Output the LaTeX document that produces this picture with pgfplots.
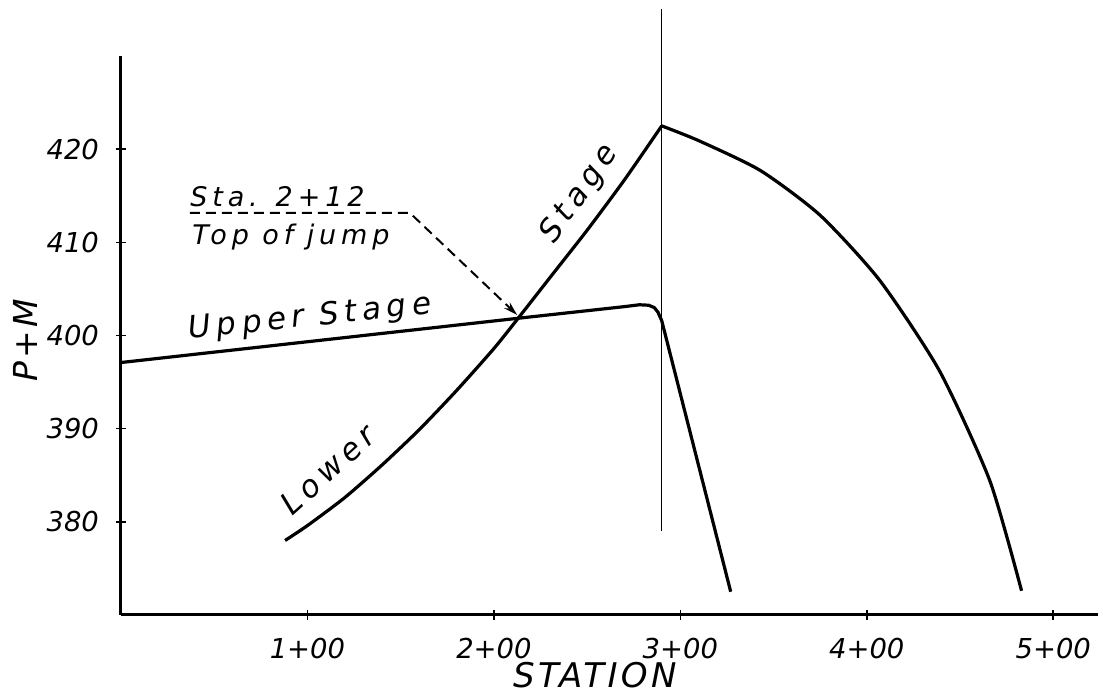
\documentclass[border=0pt]{standalone}
\usepackage{pgfplots}
\pgfplotsset{compat=1.18}
\usepackage{fontspec}
\setmainfont{DejaVu Sans}
\newfontfamily\hand{DejaVu Sans}
\newfontfamily\handS[LetterSpace=18]{DejaVu Sans}
\newfontfamily\handM[LetterSpace=10]{DejaVu Sans}
\usetikzlibrary{arrows.meta}
\begin{document}
\begin{tikzpicture}
\useasboundingbox (-60.5pt,-40.5pt) rectangle (491pt,307.5pt);
\begin{axis}[
  at={(0pt,0pt)}, anchor=south west,
  scale only axis, width=488.5pt, height=279.5pt,
  xmin=0, xmax=524, ymin=370, ymax=430,
  axis lines*=left,
  axis line style={line width=1.5pt, black},
  clip=false,
  xtick={100,200,300,400,500},
  xticklabels={1+00,2+00,3+00,4+00,5+00},
  ytick={380,390,400,410,420},
  tick align=center,
  major tick length=5pt,
  tick style={line width=0.8pt, black},
  /pgf/number format/assume math mode=true,
  ticklabel style={font=\hand\itshape\fontsize{13.7}{16}\selectfont},
  xticklabel style={yshift=-5.5pt},
  yticklabel style={xshift=-5pt},
  xlabel={STATION}, ylabel={P+M},
  xlabel style={at={(axis description cs:0.485,-0.108)}, anchor=center, inner sep=0pt, font=\handM\itshape\fontsize{17}{20}\selectfont},
  ylabel style={at={(axis description cs:-0.098,0.492)}, anchor=center, font=\handM\itshape\fontsize{16.5}{20}\selectfont},
]
% Upper stage
\addplot[black, line width=1.6pt, mark=none, line join=round] coordinates {
  (0,397.1) (213,401.85) (270,403.1) (278,403.3) (283,403.25) (286,403.0) (288,402.5) (290,401.6) (327,372.5)
};
% Lower stage
\addplot[black, line width=1.6pt, mark=none, line join=round, smooth, tension=0.4] coordinates {
  (88,378.0) (100,379.6) (120,382.6) (140,386.1) (160,389.9) (180,394.1) (200,398.6) (213,401.85)
  (230,406.2) (250,411.3) (270,416.7) (290,422.5)
};
% falling curve after peak
\addplot[black, line width=1.6pt, mark=none, line join=round, smooth, tension=0.4] coordinates {
  (290,422.5) (310,420.9) (343,417.7) (375,412.9) (407,405.9) (439,396.2) (466,384.4) (483,372.6)
};
% vertical line
\addplot[black, line width=0.7pt, mark=none] coordinates {(290,379) (290,435)};

\draw[black, line width=1pt, dash pattern=on 5pt off 3pt, -{Stealth[length=7pt,width=4pt]}]
  (axis cs:37,413.15) -- (axis cs:155,413.15) -- (axis cs:212.5,402.2);

\node[font=\handS\itshape\fontsize{15.5}{18}\selectfont, rotate=6] at (axis cs:101.4,401.9) {Upper Stage};
\node[font=\handS\itshape\fontsize{15.5}{18}\selectfont, rotate=42] at (axis cs:111,385.6) {Lower};
\node[font=\handS\itshape\fontsize{15.5}{18}\selectfont, rotate=55] at (axis cs:246,415.2) {Stage};
\node[font=\handS\itshape\fontsize{13.5}{16}\selectfont, anchor=base west, inner sep=0pt] at (axis cs:37,413.8) {Sta. 2+12};
\node[font=\handS\itshape\fontsize{13.5}{16}\selectfont, anchor=base west, inner sep=0pt] at (axis cs:38.1,409.8) {Top of jump};
\end{axis}
\end{tikzpicture}
\end{document}
